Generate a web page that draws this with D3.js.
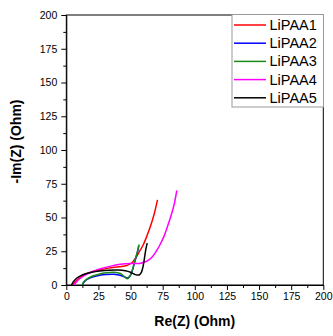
<!DOCTYPE html>
<html>
<head>
<meta charset="utf-8">
<script src="https://cdn.jsdelivr.net/npm/d3@7"></script>
<style>
  html, body { margin: 0; padding: 0; background: #fff; }
  svg { display: block; font-family: "Liberation Sans", Arial, sans-serif; }
</style>
</head>
<body>
<svg id="chart" width="333" height="336"></svg>
<script>
// Nyquist data: Re(Z) and -Im(Z) in Ohm for each sample
const seriesNames = ["LiPAA1", "LiPAA2", "LiPAA3", "LiPAA4", "LiPAA5"];
const seriesColors = ["#ff0000", "#0000ff", "#1a8a1a", "#ff00ff", "#000000"];

const lipaa1 = [[5,0],[7,2.5],[10,5],[14,7.5],[19,9.5],[25,11],[33,12.5],[41,13.5],[47,14.5],[51,16.5],[54,20],[57,25],[60,30],[63,37],[66,45],[68.5,53],[71,63]];
const lipaa2 = [[12.5,0],[14,2.5],[17,4.5],[21,6],[26,7.2],[31,7.8],[37,8],[42,7.2],[45.5,5.8],[47.5,5.2],[49.5,6.5],[51.5,11],[53.5,18],[55.5,25],[56.5,29.5]];
const lipaa3 = [[12.5,0],[14,2.8],[17,5],[21,6.8],[26,8.2],[31,9],[37,9.4],[42,8.5],[45.5,6],[47.5,4.6],[49.5,6.5],[51.5,11.5],[53.5,18.5],[55.5,25],[56.5,30]];
const lipaa4 = [[6,0],[8,2.5],[11,5],[15,7.5],[20,9.8],[26,11.8],[34,13.8],[42,15.3],[50,16],[57,16],[61,17],[64,18.5],[67,21],[70,25],[73,30],[76,36],[79,44],[82,53],[84,60],[86,70]];
const lipaa5 = [[4,0],[5.5,2.5],[8,5],[11,6.8],[15,8.3],[20,9.5],[26,10.4],[33,11],[40,11.1],[46,10.5],[50,9.4],[53,8],[55,7.4],[57,7.6],[58.5,9.5],[59.8,14],[61,21],[62,27],[63,31]];
const seriesData = [lipaa1, lipaa2, lipaa3, lipaa4, lipaa5];

const xTicks = [0, 25, 50, 75, 100, 125, 150, 175, 200];
const yTicks = [0, 25, 50, 75, 100, 125, 150, 175, 200];
const xMinor = d3.range(12.5, 200, 25);
const yMinor = d3.range(12.5, 200, 25);

const svg = d3.select("#chart");
const L = 66.3, R = 323.3, T = 15, B = 285;

const x = d3.scaleLinear().domain([0, 200]).range([L, R]);
const y = d3.scaleLinear().domain([0, 200]).range([B, T]);

// frame (top and right sides, no ticks)
svg.append("rect")
  .attr("x", L).attr("y", T).attr("width", R - L).attr("height", B - T)
  .attr("fill", "none").attr("stroke", "#000").attr("stroke-width", 1);

// bottom axis
const gx = svg.append("g").attr("transform", `translate(0,${B})`)
  .call(d3.axisBottom(x).tickValues(xTicks).tickSize(5).tickSizeOuter(0).tickPadding(3));
gx.append("g").call(d3.axisBottom(x).tickValues(xMinor).tickSize(3).tickFormat("").tickSizeOuter(0))
  .select(".domain").remove();

// left axis
const gy = svg.append("g").attr("transform", `translate(${L},0)`)
  .call(d3.axisLeft(y).tickValues(yTicks).tickSize(5).tickSizeOuter(0).tickPadding(4));
gy.append("g").call(d3.axisLeft(y).tickValues(yMinor).tickSize(3).tickFormat("").tickSizeOuter(0))
  .select(".domain").remove();

svg.selectAll(".tick text").attr("font-size", "10.5px").attr("fill", "#000")
  .attr("font-family", "'Liberation Sans', Arial, sans-serif");
svg.selectAll(".domain, .tick line").attr("stroke", "#000");

// axis titles
svg.append("text")
  .attr("x", (L + R) / 2).attr("y", 326)
  .attr("text-anchor", "middle").attr("font-weight", "bold").attr("font-size", "14px")
  .text("Re(Z) (Ohm)");
svg.append("text")
  .attr("transform", "translate(21,141.5) rotate(-90)")
  .attr("text-anchor", "middle").attr("font-weight", "bold").attr("font-size", "14px")
  .text("-Im(Z) (Ohm)");

// data curves
const line = d3.line()
  .x(d => x(d[0])).y(d => y(d[1]))
  .curve(d3.curveCatmullRom.alpha(0.5));

const plot = svg.append("g");
plot.append("defs").append("clipPath").attr("id", "clip")
  .append("rect").attr("x", L).attr("y", T).attr("width", R - L).attr("height", B - T);

seriesData.forEach((data, i) => {
  plot.append("path")
    .datum(data)
    .attr("d", line)
    .attr("fill", "none")
    .attr("stroke", seriesColors[i])
    .attr("stroke-width", 1.5)
    .attr("clip-path", "url(#clip)");
});

// legend
const lg = svg.append("g");
lg.append("rect")
  .attr("x", 232).attr("y", 14.5).attr("width", 91.5).attr("height", 92.5)
  .attr("fill", "#fff").attr("stroke", "#999").attr("stroke-width", 1);
seriesNames.forEach((name, i) => {
  const cy = 25 + i * 18.2;
  lg.append("line")
    .attr("x1", 234).attr("x2", 266).attr("y1", cy).attr("y2", cy)
    .attr("stroke", seriesColors[i]).attr("stroke-width", 1.5);
  lg.append("text")
    .attr("x", 269.5).attr("y", cy + 5)
    .attr("font-size", "14.5px").attr("fill", "#000")
    .text(name);
});
</script>
</body>
</html>
